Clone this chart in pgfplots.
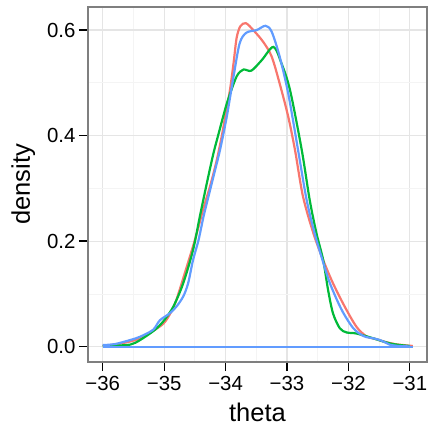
\documentclass[border=0pt]{standalone}
\usepackage{fontspec}
\setmainfont{Liberation Sans}
\usepackage{pgfplots}
\pgfplotsset{compat=1.18}
\definecolor{cred}{HTML}{F8766D}
\definecolor{cgreen}{HTML}{00BA38}
\definecolor{cblue}{HTML}{619CFF}
\definecolor{gmaj}{HTML}{E5E5E5}
\definecolor{gmin}{HTML}{F4F4F4}
\definecolor{bord}{HTML}{7F7F7F}
\begin{document}
\begin{tikzpicture}
\path[use as bounding box] (-88bp,-65bp) rectangle (345bp,362bp);
\begin{axis}[
 scale only axis, width=339bp, height=355bp,
 xmin=-36.24, xmax=-30.72, ymin=-0.029, ymax=0.6436,
 xtick={-36,-35,-34,-33,-32,-31},
 xticklabels={−36,−35,−34,−33,−32,−31},
 ytick={0,0.2,0.4,0.6},
 yticklabels={0.0,0.2,0.4,0.6},
 minor xtick={-35.5,-34.5,-33.5,-32.5,-31.5},
 minor ytick={0.1,0.3,0.5},
 grid=both,
 major grid style={gmaj, line width=1.1bp},
 minor grid style={gmin, line width=0.8bp},
 axis line style={bord, line width=1.3bp},
 tick align=outside,
 major tick length=9bp,
 minor tick length=0pt,
 tick style={black, line width=1.3bp},
 xtick pos=bottom, ytick pos=left,
 ticklabel style={font=\fontsize{20.4bp}{24bp}\selectfont},
 xticklabel style={yshift=-2bp},
 xlabel={theta}, ylabel={density},
 label style={font=\fontsize{25.5bp}{30bp}\selectfont},
 xlabel style={at={(axis description cs:0.5,-0.1682)}, anchor=base},
 ylabel style={at={(axis description cs:-0.1711,0.5)}, anchor=base},
]
% red
\addplot[cred, line width=2.2bp, smooth, tension=0.5] coordinates {
(-36.00,0.002) (-35.80,0.004) (-35.55,0.010) (-35.39,0.016) (-35.18,0.030)
(-35.01,0.044) (-34.90,0.063) (-34.80,0.089) (-34.63,0.152) (-34.50,0.202)
(-34.36,0.262) (-34.25,0.305) (-34.15,0.350) (-34.06,0.400) (-34.00,0.440)
(-33.93,0.485) (-33.87,0.537) (-33.82,0.585) (-33.76,0.607) (-33.67,0.613)
(-33.55,0.600) (-33.39,0.578) (-33.25,0.550) (-33.12,0.499) (-32.98,0.436)
(-32.87,0.373) (-32.74,0.285) (-32.57,0.215) (-32.41,0.164) (-32.25,0.120)
(-32.06,0.076) (-31.87,0.038) (-31.71,0.020) (-31.54,0.014) (-31.40,0.009)
(-31.22,0.0045) (-31.10,0.003) (-30.95,0.0013)};
\addplot[cred, line width=2.2bp] coordinates {(-36,0) (-30.95,0)};
% green
\addplot[cgreen, line width=2.2bp, smooth, tension=0.5] coordinates {
(-36.00,0.001) (-35.80,0.002) (-35.55,0.004) (-35.39,0.0127) (-35.15,0.032)
(-35.00,0.050) (-34.85,0.076) (-34.69,0.120) (-34.53,0.183) (-34.42,0.246)
(-34.31,0.307) (-34.20,0.365) (-34.11,0.405) (-34.03,0.440) (-33.96,0.468)
(-33.82,0.512) (-33.71,0.525) (-33.58,0.523) (-33.41,0.543) (-33.22,0.568)
(-33.09,0.537) (-32.95,0.486) (-32.76,0.373) (-32.63,0.278) (-32.52,0.215)
(-32.41,0.164) (-32.33,0.107) (-32.25,0.063) (-32.14,0.035) (-32.03,0.027)
(-31.87,0.025) (-31.60,0.016) (-31.33,0.0064) (-31.15,0.003) (-31.00,0.0013)};
\addplot[cgreen, line width=2.2bp] coordinates {(-36,0) (-30.95,0)};
% blue
\addplot[cblue, line width=2.2bp, smooth, tension=0.5] coordinates {
(-36.00,0.003) (-35.80,0.005) (-35.55,0.0127) (-35.39,0.019) (-35.18,0.032)
(-35.07,0.050) (-34.91,0.063) (-34.80,0.076) (-34.69,0.095) (-34.61,0.120)
(-34.53,0.164) (-34.44,0.202) (-34.36,0.246) (-34.28,0.284) (-34.17,0.335)
(-34.09,0.373) (-33.98,0.436) (-33.87,0.512) (-33.77,0.575) (-33.66,0.595)
(-33.49,0.600) (-33.35,0.608) (-33.25,0.597) (-33.12,0.550) (-32.98,0.480)
(-32.82,0.373) (-32.68,0.278) (-32.55,0.215) (-32.44,0.171) (-32.30,0.120)
(-32.11,0.070) (-31.92,0.035) (-31.75,0.020) (-31.60,0.016) (-31.49,0.0127)
(-31.40,0.008) (-31.33,0.004) (-31.20,0.0015) (-31.00,0.0005)};
\addplot[cblue, line width=2.2bp] coordinates {(-36,0) (-30.95,0)};
\end{axis}
\end{tikzpicture}
\end{document}
